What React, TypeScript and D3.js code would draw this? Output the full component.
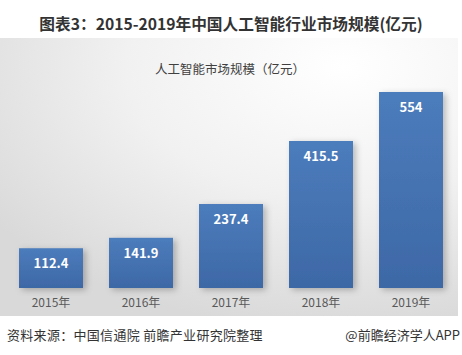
import React from "react";
import * as d3 from "d3";

const years = ["2015年", "2016年", "2017年", "2018年", "2019年"];
const values = [112.4, 141.9, 237.4, 415.5, 554];
const valueLabels = ["112.4", "141.9", "237.4", "415.5", "554"];

const W = 462;
const H = 355;

export default function App() {
  const x = d3.scaleBand<string>().domain(years).range([6, 456]).paddingInner(0.289).paddingOuter(0.1445);
  const y = d3.scaleLinear().domain([0, 554]).range([288, 92]);
  const font = "'Microsoft YaHei', 'Noto Sans CJK SC', sans-serif";
  return (
    <svg width={W} height={H} style={{ position: "absolute", left: 0, top: 0, display: "block" }}>
      <defs>
        <radialGradient id="bg" cx="0.75" cy="0.1" r="0.95">
          <stop offset="0" stopColor="#ffffff" />
          <stop offset="0.5" stopColor="#f1f1f1" />
          <stop offset="1" stopColor="#d9d9d9" />
        </radialGradient>
        <linearGradient id="bar" x1="0" y1="0" x2="0" y2="1">
          <stop offset="0" stopColor="#4c7cbc" />
          <stop offset="1" stopColor="#3d68a6" />
        </linearGradient>
        <filter id="sh" x="-20%" y="-20%" width="150%" height="140%">
          <feDropShadow dx="3" dy="2" stdDeviation="3" floodColor="#000" floodOpacity="0.25" />
        </filter>
      </defs>
      <rect x={0} y={0} width={W} height={H} fill="#ffffff" />
      <rect x={0} y={38} width={458} height={278} fill="url(#bg)" />
      <text x={231} y={30} textAnchor="middle" fontFamily={font} fontWeight="bold" fontSize={15.7} fill="#333333">
        图表3：2015-2019年中国人工智能行业市场规模(亿元)
      </text>
      <text x={230} y={74} textAnchor="middle" fontFamily={font} fontSize={12.5} fill="#404040">
        人工智能市场规模（亿元）
      </text>
      {years.map((yr, i) => (
        <g key={yr}>
          <rect
            x={x(yr)}
            y={y(values[i])}
            width={x.bandwidth()}
            height={y(0) - y(values[i])}
            fill="url(#bar)"
            filter="url(#sh)"
          />
          <text
            x={(x(yr) as number) + x.bandwidth() / 2}
            y={y(values[i]) + 20}
            textAnchor="middle"
            fontFamily={font}
            fontWeight="bold"
            fontSize={13}
            fill="#ffffff"
          >
            {valueLabels[i]}
          </text>
          <text
            x={(x(yr) as number) + x.bandwidth() / 2}
            y={307}
            textAnchor="middle"
            fontFamily={font}
            fontSize={12}
            fill="#595959"
          >
            {yr}
          </text>
        </g>
      ))}
      <text x={7} y={340} fontFamily={font} fontSize={13} fill="#333333" letterSpacing={0.3}>
        资料来源：中国信通院 前瞻产业研究院整理
      </text>
      <text x={460} y={340} textAnchor="end" fontFamily={font} fontSize={13} fill="#333333">
        @前瞻经济学人APP
      </text>
    </svg>
  );
}
